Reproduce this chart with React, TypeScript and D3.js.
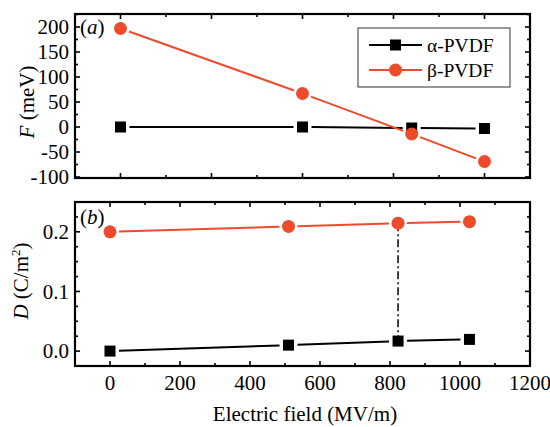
import React from "react";
import * as d3 from "d3";

const topFieldA = [0, 400, 640, 800];
const topFA = [0, 0, -2, -3];
const topFieldB = [0, 400, 640, 800];
const topFB = [197, 67, -14, -69];

const botField = [0, 510, 823, 1027];
const botDA = [0, 0.010, 0.0168, 0.0196];
const botDB = [0.2, 0.209, 0.2145, 0.217];

const xTickLabels = [0, 200, 400, 600, 800, 1000, 1200];
const fTicks = [-100, -50, 0, 50, 100, 150, 200];
const dTicks = [0.0, 0.1, 0.2];
const seriesNames = ["α-PVDF", "β-PVDF"];

const RED = "#ee4a2c";
const FONT = "Liberation Serif";
const TS = { fontFamily: FONT };

const L = 75, R = 530;
const TOP_Y0 = 14, TOP_Y1 = 178;
const BOT_Y0 = 202, BOT_Y1 = 366;

function segments(pts: [number, number][], gap: number) {
  return pts.slice(1).map((p, i) => {
    const a = pts[i];
    const dx = p[0] - a[0], dy = p[1] - a[1];
    const len = Math.hypot(dx, dy);
    const ux = dx / len, uy = dy / len;
    return [a[0] + ux * gap, a[1] + uy * gap, p[0] - ux * gap, p[1] - uy * gap];
  });
}

function Series({ xs, ys, x, y, kind }: any) {
  const pts: [number, number][] = xs.map((v: number, i: number) => [x(v), y(ys[i])]);
  const color = kind === "sq" ? "#000" : RED;
  const gap = 9;
  return (
    <g>
      {segments(pts, gap).map((s, i) => (
        <line key={i} x1={s[0]} y1={s[1]} x2={s[2]} y2={s[3]} stroke={color} strokeWidth={2} />
      ))}
      {pts.map((p, i) =>
        kind === "sq" ? (
          <rect key={i} x={p[0] - 5.5} y={p[1] - 5.5} width={11} height={11} fill="#000" />
        ) : (
          <circle key={i} cx={p[0]} cy={p[1]} r={6.5} fill={RED} />
        )
      )}
    </g>
  );
}

function Frame({ x, y, y0, y1, xMajor, xMinor, yMajor, yMinor }: any) {
  const maj = 5, min = 3;
  return (
    <g stroke="#000" strokeWidth={1.6}>
      {xMajor.map((v: number) => (
        <g key={"xm" + v}>
          <line x1={x(v)} x2={x(v)} y1={y1} y2={y1 - maj} />
          <line x1={x(v)} x2={x(v)} y1={y0} y2={y0 + maj} />
        </g>
      ))}
      {xMinor.map((v: number) => (
        <g key={"xn" + v}>
          <line x1={x(v)} x2={x(v)} y1={y1} y2={y1 - min} />
          <line x1={x(v)} x2={x(v)} y1={y0} y2={y0 + min} />
        </g>
      ))}
      {yMajor.map((v: number) => (
        <g key={"ym" + v}>
          <line x1={L} x2={L + maj} y1={y(v)} y2={y(v)} />
          <line x1={R} x2={R - maj} y1={y(v)} y2={y(v)} />
        </g>
      ))}
      {yMinor.map((v: number) => (
        <g key={"yn" + v}>
          <line x1={L} x2={L + min} y1={y(v)} y2={y(v)} />
          <line x1={R} x2={R - min} y1={y(v)} y2={y(v)} />
        </g>
      ))}
      <rect x={L} y={y0} width={R - L} height={y1 - y0} fill="none" strokeWidth={2.2} />
    </g>
  );
}

export default function App() {
  const xTop = d3.scaleLinear().domain([-100, 900]).range([L, R]);
  const yTop = d3.scaleLinear().domain([-102, 226]).range([TOP_Y1, TOP_Y0]);
  const xBot = d3.scaleLinear().domain([-100, 1200]).range([L, R]);
  const yBot = d3.scaleLinear().domain([-0.025, 0.25]).range([BOT_Y1, BOT_Y0]);

  const topXMajor = d3.range(0, 900, 200);
  const topXMinor = d3.range(-100, 901, 200);
  const topYMinor = d3.range(-75, 226, 50);
  const botXMajor = d3.range(0, 1201, 200);
  const botXMinor = d3.range(-100, 1200, 200);
  const botYMinor = [0.025, 0.05, 0.075, 0.125, 0.15, 0.175, 0.225];

  const dashIdx = 2;

  return (
    <svg width={550} height={427} style={{ position: "absolute", left: 0, top: 0, background: "#fff" }}>
      <rect width={550} height={427} fill="#fff" />
      {/* Top panel */}
      <Series xs={topFieldA} ys={topFA} x={xTop} y={yTop} kind="sq" />
      <Series xs={topFieldB} ys={topFB} x={xTop} y={yTop} kind="ci" />
      <Frame x={xTop} y={yTop} y0={TOP_Y0} y1={TOP_Y1} xMajor={topXMajor} xMinor={topXMinor} yMajor={fTicks} yMinor={topYMinor} />
      {fTicks.map((v) => (
        <text key={v} x={69} y={yTop(v)} dy="0.34em" textAnchor="end" fontSize={21} style={TS}>
          {v < 0 ? "-" + Math.abs(v) : v}
        </text>
      ))}
      <text x={80} y={34} fontSize={21} style={TS}>
        (<tspan fontStyle="italic">a</tspan>)
      </text>
      <text transform="translate(34,102) rotate(-90)" textAnchor="middle" fontSize={21} style={TS}>
        <tspan fontStyle="italic">F</tspan> (meV)
      </text>

      {/* Legend */}
      <rect x={358} y={28} width={152} height={59} fill="#fff" stroke="#333" strokeWidth={1} />
      {seriesNames.map((n, i) => {
        const ly = 45 + i * 25;
        const c = i === 0 ? "#000" : RED;
        return (
          <g key={n}>
            <line x1={369} x2={422} y1={ly} y2={ly} stroke={c} strokeWidth={2} />
            {i === 0 ? (
              <rect x={395.5 - 5.5} y={ly - 5.5} width={11} height={11} fill="#000" />
            ) : (
              <circle cx={395.5} cy={ly} r={6.5} fill={RED} />
            )}
            <text x={427} y={ly} dy="0.34em" fontSize={19.5} style={TS}>{n}</text>
          </g>
        );
      })}

      {/* Bottom panel */}
      <line x1={xBot(botField[dashIdx])} x2={xBot(botField[dashIdx])} y1={yBot(botDB[dashIdx])} y2={yBot(botDA[dashIdx])}
        stroke="#000" strokeWidth={1.5} strokeDasharray="8,3,2,3" />
      <Series xs={botField} ys={botDA} x={xBot} y={yBot} kind="sq" />
      <Series xs={botField} ys={botDB} x={xBot} y={yBot} kind="ci" />
      <Frame x={xBot} y={yBot} y0={BOT_Y0} y1={BOT_Y1} xMajor={botXMajor} xMinor={botXMinor} yMajor={dTicks} yMinor={botYMinor} />
      {dTicks.map((v) => (
        <text key={v} x={69} y={yBot(v)} dy="0.34em" textAnchor="end" fontSize={21} style={TS}>
          {v.toFixed(1)}
        </text>
      ))}
      {xTickLabels.map((v) => (
        <text key={v} x={xBot(v)} y={390} textAnchor="middle" fontSize={21} style={TS}>
          {v}
        </text>
      ))}
      <text x={80} y={224} fontSize={21} style={TS}>
        (<tspan fontStyle="italic">b</tspan>)
      </text>
      <text transform="translate(28,281) rotate(-90)" textAnchor="middle" fontSize={21} style={TS}>
        <tspan fontStyle="italic">D</tspan> (C/m<tspan fontSize={13} dy={-8}>2</tspan><tspan dy={8}>)</tspan>
      </text>
      <text x={305} y={421} textAnchor="middle" fontSize={21} style={TS}>Electric field (MV/m)</text>
    </svg>
  );
}
